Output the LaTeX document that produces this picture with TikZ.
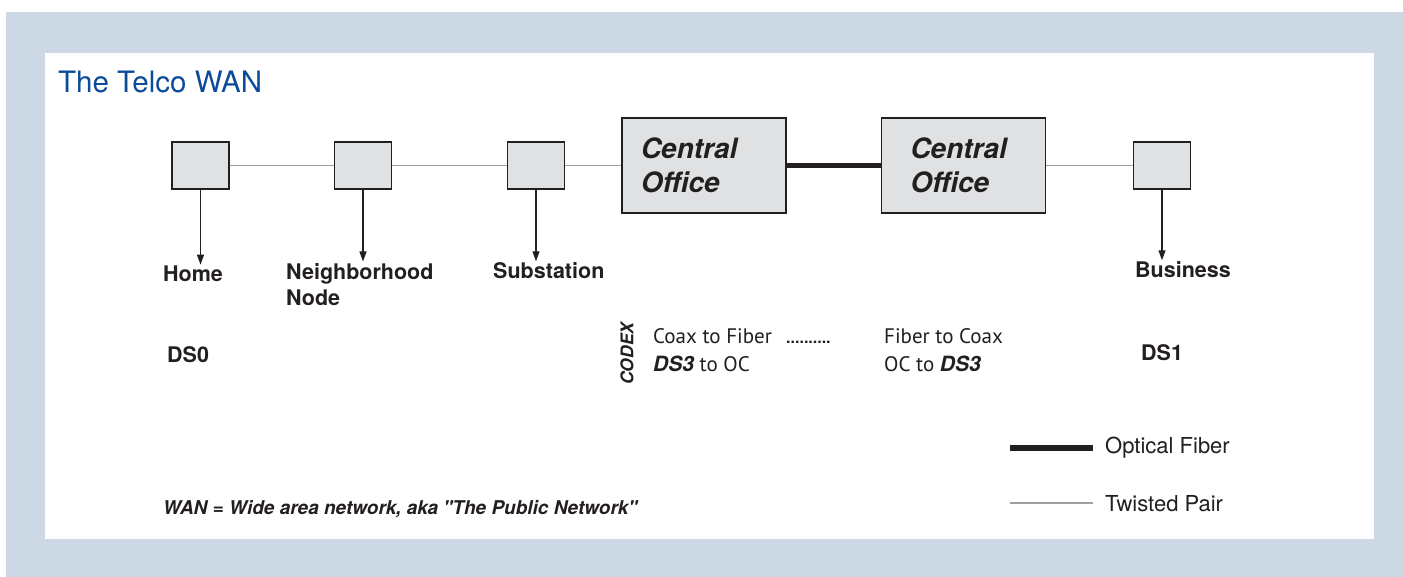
\documentclass[tikz,border=0pt]{standalone}
\usepackage{fontspec}
\setmainfont{TeX Gyre Heros}
\newfontfamily\myriad{PT Sans}
\usetikzlibrary{positioning,arrows.meta}
\definecolor{panelblue}{RGB}{204,217,228}
\definecolor{boxgray}{RGB}{224,225,227}
\definecolor{pairgray}{RGB}{160,160,160}
\definecolor{titleblue}{RGB}{12,74,154}
\definecolor{ink}{RGB}{35,31,32}
\newcommand{\DSbi}[1]{{\normalfont\bfseries\itshape #1}}

\begin{document}
\begin{tikzpicture}[x=1pt,y=-1pt]
			\tikzstyle{boxs} = [draw=ink, line width=1.3pt, fill=boxgray,
				minimum width=57pt, minimum height=47pt, inner sep=0pt]
			\tikzstyle{boxsC} = [boxs, minimum width=164pt, minimum height=95pt,
				text=ink, font=\fontsize{28}{34}\selectfont\bfseries\itshape, align=left]
			\tikzstyle{lbl} = [inner sep=0pt, anchor=base west, text=ink,
				font=\fontsize{21.5}{26}\selectfont\bfseries]
			\tikzstyle{txt} = [inner sep=0pt, anchor=base west, text=ink,
				font=\fontsize{21}{24}\selectfont\myriad]
			\tikzstyle{pair} = [draw=pairgray, line width=1.5pt]
			\tikzstyle{fiber} = [draw=ink, line width=5.5pt]
			\tikzstyle{line} = [draw=ink, line width=1.2pt, shorten >=1.5pt,
				-{Triangle[length=10pt,width=7pt]}]

			\useasboundingbox (0,0) rectangle (1403,577);
			\fill[white] (0,0) rectangle (1403,577);
			\fill[panelblue] (6,12) rectangle (1403,577);
			\fill[white] (45,53) rectangle (1374,539);

			\node(Title)[anchor=base west, inner sep=0pt, text=titleblue,
				font=\fontsize{29.5}{32}\selectfont] at (58,93) {The Telco WAN};

			% the chain of boxes
			\node(Home)[boxs] at (200.5,165.5) {};
			\node(NbhdNode)[boxs] at (363,165.5) {};
			\node(Substation)[boxs] at (536,165.5) {};
			\node(COLeft)[boxsC, text width=126pt, inner xsep=19pt] at (704,165.5) {Central\\Office};
			\node(CORight)[boxsC, text width=106pt, inner xsep=29pt] at (963.5,165.5) {Central\\Office};
			\node(Business)[boxs] at (1162,165.5) {};

			\draw[pair] (Home) -- (NbhdNode);
			\draw[pair] (NbhdNode) -- (Substation);
			\draw[pair] (Substation) -- (COLeft);
			\draw[fiber] (COLeft) -- (CORight);
			\draw[pair] (CORight) -- (Business);

			% labels under the boxes
			\node(HomeLbl)[lbl] at (163,282) {Home};
			\node(NbhdLbl)[lbl, anchor=north west, align=left] at (286,263) {Neighborhood\\Node};
			\node(SubstLbl)[lbl] at (493,279) {Substation};
			\node(BizLbl)[lbl] at (1135,278) {Business};

			\draw[line] (Home) -- (Home |- HomeLbl.north);
			\draw[line] (NbhdNode) -- (NbhdNode |- NbhdLbl.north);
			\draw[line] (Substation) -- (Substation |- SubstLbl.north);
			\draw[line] (Business) -- (Business |- BizLbl.north);

			\node(DSzero)[lbl] at (167,362) {DS0};
			\node(DSone)[lbl] at (1141,360) {DS1};

			% codex notes
			\node(Codex)[rotate=90, inner sep=0pt, text=ink,
				font=\fontsize{17.5}{20}\selectfont\bfseries\itshape] at (627,353.5) {CODEX};
			\node(CoaxFiber)[txt] at (653,344) {Coax to Fiber};
			\node(Dots)[txt, font=\fontsize{16}{20}\selectfont\bfseries] at (786,344) {..........};
			\node(DSthreeOC)[txt, below=27pt of CoaxFiber.base west, anchor=base west] {\DSbi{DS3} to OC};
			\node(FiberCoax)[txt] at (884,344) {Fiber to Coax};
			\node(OCDSthree)[txt, below=27pt of FiberCoax.base west, anchor=base west] {OC to \DSbi{DS3}};

			% legend
			\coordinate (FibA) at (1010,448);
			\coordinate (FibB) at (1093,448);
			\draw[fiber] (FibA) -- (FibB);
			\node(FibLbl)[txt, font=\fontsize{22}{24}\selectfont] at (1105,453) {Optical Fiber};
			\coordinate (PairA) at (1010,503);
			\coordinate (PairB) at (1093,503);
			\draw[pair] (PairA) -- (PairB);
			\node(PairLbl)[txt, font=\fontsize{22}{24}\selectfont] at (1105,511) {Twisted Pair};

			\node(WanNote)[anchor=base west, inner sep=0pt, text=ink,
				font=\fontsize{19}{22}\selectfont\bfseries\itshape] at (163,514)
				{WAN = Wide area network, aka \textquotedbl The Public Network\textquotedbl};

		\end{tikzpicture}
\end{document}
